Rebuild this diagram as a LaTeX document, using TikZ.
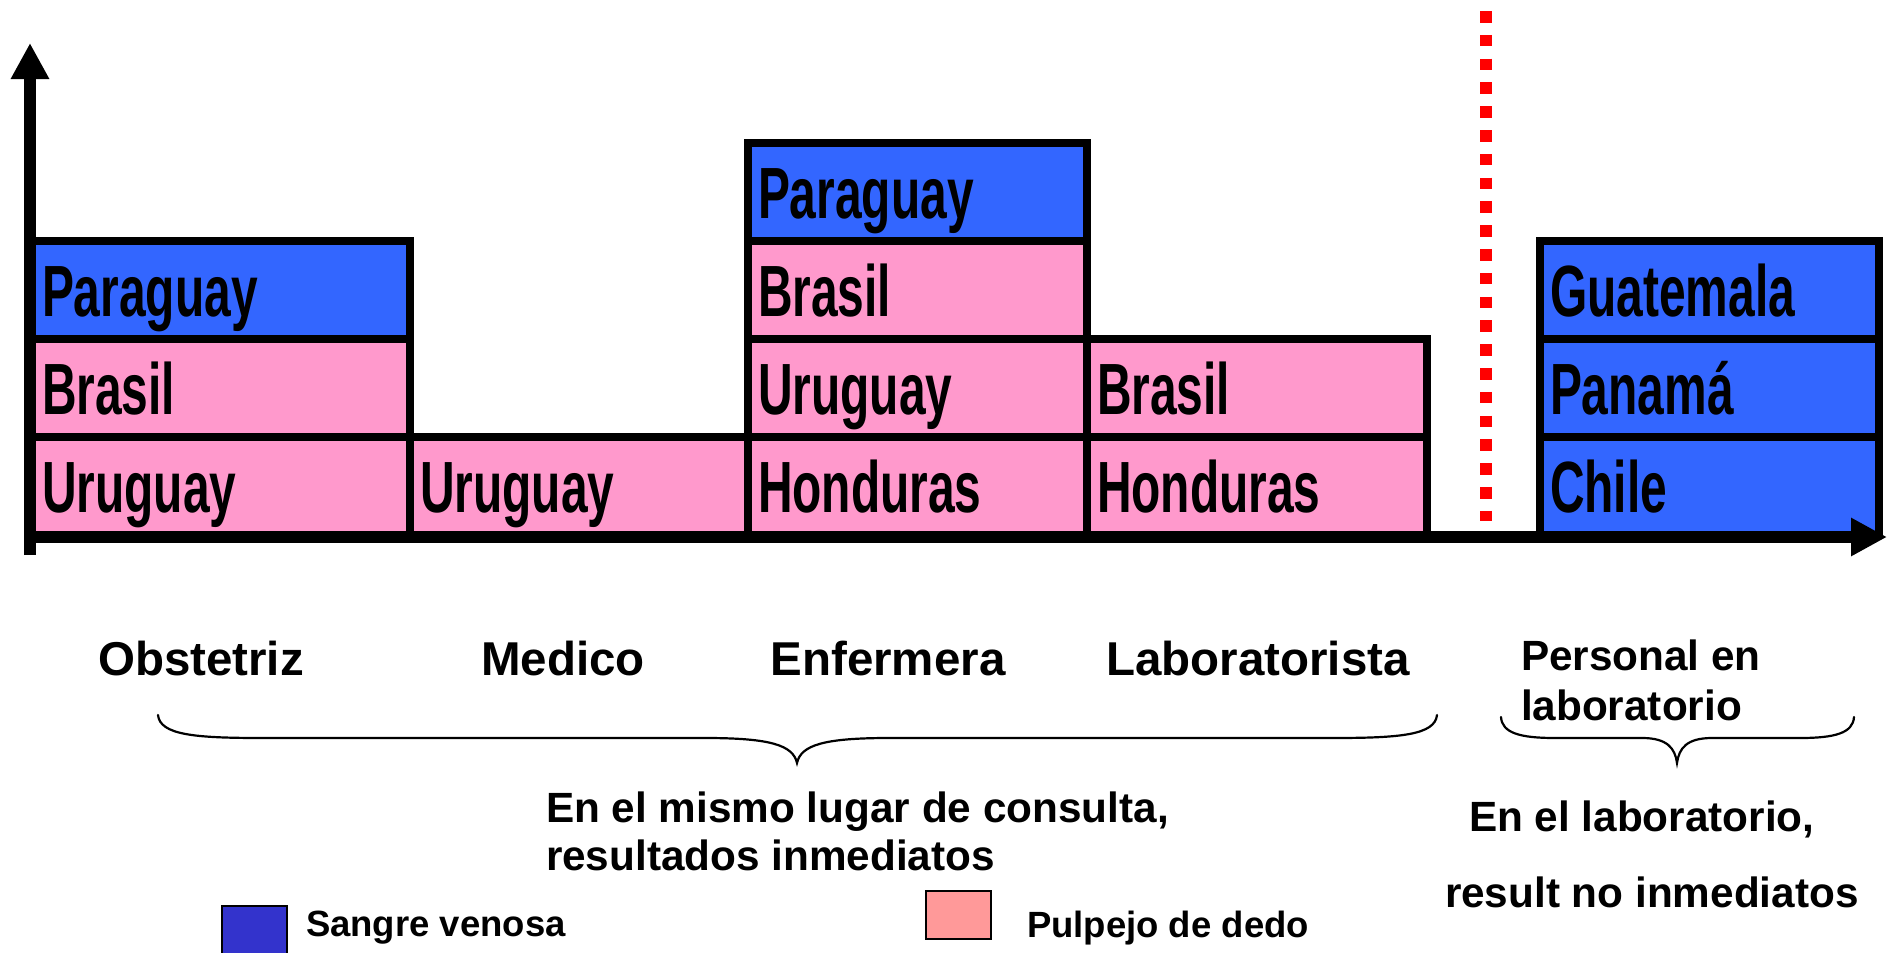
\documentclass[tikz,border=0pt]{standalone}
\usepackage{fontspec}
\setmainfont{Liberation Sans}
\newfontfamily\narrowfont[FakeStretch=0.66]{Liberation Sans}
\usetikzlibrary{arrows.meta,calc}
\definecolor{cblue}{RGB}{51,102,255}
\definecolor{cpink}{RGB}{255,153,204}
\definecolor{lblue}{RGB}{51,51,204}
\definecolor{lpink}{RGB}{255,153,153}
\definecolor{cred}{RGB}{255,0,0}
\tikzset{
  cellst/.style={draw=black, line width=8pt, inner sep=0pt, outer sep=0pt, rectangle},
  celltxt/.style={inner sep=0pt, outer sep=0pt, font=\narrowfont\bfseries\fontsize{72.6}{80}\selectfont},
  cat/.style={inner sep=0pt, outer sep=0pt, font=\bfseries\fontsize{47.5}{55}\selectfont},
  note/.style={inner sep=0pt, outer sep=0pt, font=\bfseries\fontsize{42.3}{48}\selectfont},
  legtxt/.style={inner sep=0pt, outer sep=0pt, font=\bfseries\fontsize{36.5}{40}\selectfont},
  axisline/.style={line width=12pt},
  bracest/.style={line width=2.2pt, line cap=round},
  legbox/.style={draw=black, line width=2.5pt},
}
\newcommand\cellbox[6]{%
  \node[cellst, fill=#5, minimum width={(#4-#2)*1pt}, minimum height=98pt, anchor=north west] (#1) at (#2,#3) {};
  \node[celltxt, anchor=base west] (#1t) at ($(#1.south west)+(10,-23)$) {#6};
}
\begin{document}
\begin{tikzpicture}[x=1pt,y=-1pt]
\useasboundingbox (0,0) rectangle (1891,953);
% column 1
\cellbox{a1}{32}{241}{410}{cblue}{Paraguay}
\cellbox{a2}{32}{339}{410}{cpink}{Brasil}
\cellbox{a3}{32}{437}{410}{cpink}{Uruguay}
% column 2
\cellbox{b3}{410}{437}{748}{cpink}{Uruguay}
% column 3
\cellbox{c0}{748}{143}{1087}{cblue}{Paraguay}
\cellbox{c1}{748}{241}{1087}{cpink}{Brasil}
\cellbox{c2}{748}{339}{1087}{cpink}{Uruguay}
\cellbox{c3}{748}{437}{1087}{cpink}{Honduras}
% column 4
\cellbox{d2}{1087}{339}{1427}{cpink}{Brasil}
\cellbox{d3}{1087}{437}{1427}{cpink}{Honduras}
% column 5
\cellbox{e1}{1540}{241}{1879}{cblue}{Guatemala}
\cellbox{e2}{1540}{339}{1879}{cblue}{Panamá}
\cellbox{e3}{1540}{437}{1879}{cblue}{Chile}
% axes
\coordinate (vbot) at (30,555);
\coordinate (vtop) at (30,43);
\coordinate (hleft) at (24,537);
\coordinate (hright) at (1887,537);
\draw[axisline, -{Triangle[length=36pt,width=36pt]}] (vbot) -- (vtop);
\draw[axisline, -{Triangle[length=36pt,width=36pt]}] (hleft) -- (hright);
% red dotted separator
\coordinate (rtop) at (1486,11);
\coordinate (rbot) at (1486,521);
\draw[cred, line width=12pt, dash pattern=on 11.5pt off 12.3pt] (rtop) -- (rbot);
% category labels
\node[cat, anchor=base] (obs) at (201,675) {Obstetriz};
\node[cat, anchor=base] (med) at (563,675) {Medico};
\node[cat, anchor=base] (enf) at (888,675) {Enfermera};
\node[cat, anchor=base] (lab) at (1258,675) {Laboratorista};
\node[note, anchor=base west] (pers1) at (1521,670) {Personal en};
\node[note, anchor=base west] (pers2) at (1521,720) {laboratorio};
% braces
\draw[bracest] (158,715) .. controls (160,735) and (195,738) .. (262,738) -- (705,738)
  .. controls (770,738) and (793,745) .. (797,763)
  .. controls (801,745) and (824,738) .. (889,738) -- (1333,738)
  .. controls (1400,738) and (1435,735) .. (1437,715);
\draw[bracest] (1501,717) .. controls (1502,733) and (1520,738) .. (1555,738) -- (1642,738)
  .. controls (1667,738) and (1675,748) .. (1677,763)
  .. controls (1679,748) and (1687,738) .. (1712,738) -- (1800,738)
  .. controls (1835,738) and (1853,733) .. (1854,717);
% group notes
\node[note, anchor=base west] (g1a) at (546,822) {En el mismo lugar de consulta,};
\node[note, anchor=base west] (g1b) at (546,870) {resultados inmediatos};
\node[note, anchor=base west] (g2a) at (1469,831) {En el laboratorio,};
\node[note, anchor=base west] (g2b) at (1445,907) {result no inmediatos};
% legend
\fill[lblue] (222,906) rectangle (287,953);
\draw[legbox] (222,953) |- (287,906) -- (287,953);
\node[legtxt, anchor=base west] (leg1) at (306,936) {Sangre venosa};
\node[legbox, fill=lpink, minimum width=65pt, minimum height=48pt, inner sep=0pt, outer sep=0pt, anchor=north west] (legp) at (926,891) {};
\node[legtxt, anchor=base west] (leg2) at (1027,937) {Pulpejo de dedo};
\end{tikzpicture}
\end{document}
